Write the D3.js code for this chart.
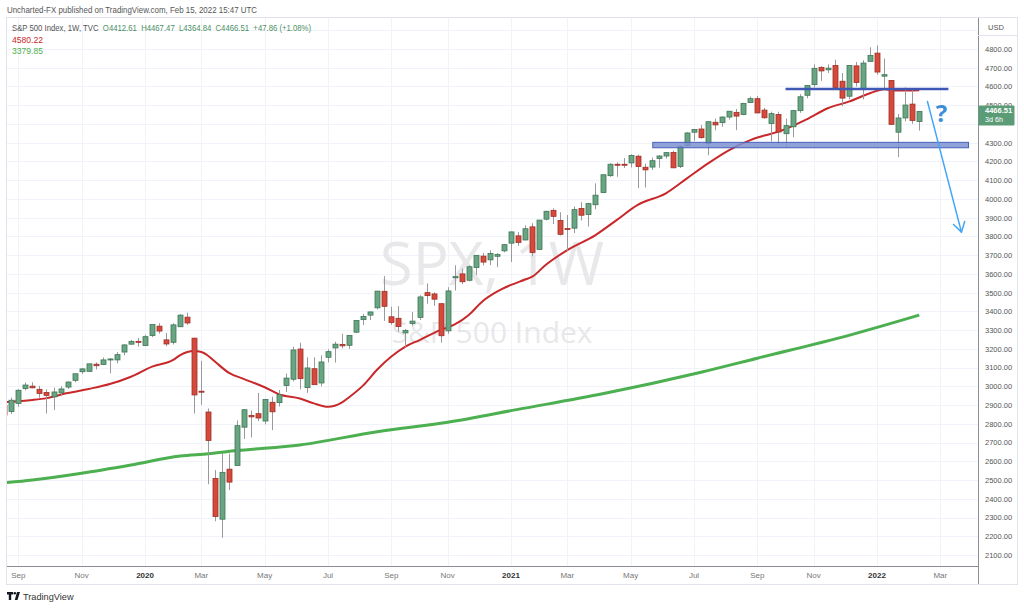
<!DOCTYPE html>
<html>
<head>
<meta charset="utf-8">
<script src="https://cdn.jsdelivr.net/npm/d3@7"></script>
<style>
  body { margin: 0; background: #fff; }
  svg { display: block; font-family: "Liberation Sans", Arial, sans-serif; }
</style>
</head>
<body>
<script>
// weekly bars, SPX
var dates = [
  "2019-08-19","2019-08-26","2019-09-02","2019-09-09","2019-09-16","2019-09-23","2019-09-30","2019-10-07","2019-10-14","2019-10-21",
  "2019-10-28","2019-11-04","2019-11-11","2019-11-18","2019-11-25","2019-12-02","2019-12-09","2019-12-16","2019-12-23","2019-12-30",
  "2020-01-06","2020-01-13","2020-01-20","2020-01-27","2020-02-03","2020-02-10","2020-02-17","2020-02-24","2020-03-02","2020-03-09",
  "2020-03-16","2020-03-23","2020-03-30","2020-04-06","2020-04-13","2020-04-20","2020-04-27","2020-05-04","2020-05-11","2020-05-18",
  "2020-05-25","2020-06-01","2020-06-08","2020-06-15","2020-06-22","2020-06-29","2020-07-06","2020-07-13","2020-07-20","2020-07-27",
  "2020-08-03","2020-08-10","2020-08-17","2020-08-24","2020-08-31","2020-09-07","2020-09-14","2020-09-21","2020-09-28","2020-10-05",
  "2020-10-12","2020-10-19","2020-10-26","2020-11-02","2020-11-09","2020-11-16","2020-11-23","2020-11-30","2020-12-07","2020-12-14",
  "2020-12-21","2020-12-28","2021-01-04","2021-01-11","2021-01-18","2021-01-25","2021-02-01","2021-02-08","2021-02-15","2021-02-22",
  "2021-03-01","2021-03-08","2021-03-15","2021-03-22","2021-03-29","2021-04-05","2021-04-12","2021-04-19","2021-04-26","2021-05-03",
  "2021-05-10","2021-05-17","2021-05-24","2021-05-31","2021-06-07","2021-06-14","2021-06-21","2021-06-28","2021-07-05","2021-07-12",
  "2021-07-19","2021-07-26","2021-08-02","2021-08-09","2021-08-16","2021-08-23","2021-08-30","2021-09-06","2021-09-13","2021-09-20",
  "2021-09-27","2021-10-04","2021-10-11","2021-10-18","2021-10-25","2021-11-01","2021-11-08","2021-11-15","2021-11-22","2021-11-29",
  "2021-12-06","2021-12-13","2021-12-20","2021-12-27","2022-01-03","2022-01-10","2022-01-17","2022-01-24","2022-01-31","2022-02-07",
  "2022-02-14"
];
var opens = [
  2898,2866,2909,2988,3001,2984,2967,2944,2965,2996, 3032,3078,3080,3118,3117,3144,3141,3183,3225,3240,
  3218,3271,3321,3248,3235,3318,3369,3257,2974,2863, 2508,2291,2558,2578,2782,2845,2854,2815,2915,2913,
  3004,3038,3199,2993,3094,3018,3155,3205,3224,3219, 3289,3356,3380,3419,3507,3371,3363,3285,3335,3368,
  3500,3493,3441,3296,3583,3600,3566,3634,3695,3675, 3694,3723,3764,3803,3781,3851,3731,3892,3939,3885,
  3842,3844,3949,3917,3969,4034,4124,4185,4185,4192, 4228,4169,4170,4216,4229,4248,4173,4285,4356,4373,
  4296,4409,4407,4437,4462,4450,4514,4535,4474,4402, 4450,4348,4385,4471,4553,4610,4702,4689,4712,4628,
  4548,4710,4587,4734,4778,4655,4632,4356,4432,4506, 4412.61
];
var highs = [
  2940,2940,2985,3021,3022,3003,2983,2993,3000,3027, 3067,3098,3120,3128,3154,3150,3183,3225,3248,3258,
  3275,3330,3337,3285,3337,3385,3393,3260,3136,2882, 2553,2641,2641,2818,2879,2871,2965,2932,2945,2981,
  3068,3211,3233,3155,3155,3165,3198,3238,3280,3272, 3352,3387,3399,3509,3588,3425,3428,3306,3397,3486,
  3549,3502,3441,3529,3646,3628,3645,3699,3712,3726, 3711,3760,3826,3823,3859,3870,3887,3937,3950,3929,
  3914,3960,3983,3978,4083,4129,4191,4195,4218,4238, 4236,4188,4220,4234,4249,4257,4286,4356,4372,4394,
  4415,4429,4440,4468,4480,4513,4546,4549,4486,4466, 4465,4429,4475,4559,4608,4718,4708,4718,4743,4672,
  4713,4731,4740,4809,4819,4749,4632,4453,4595,4590, 4467.47
];
var lows = [
  2834,2853,2891,2978,2990,2939,2855,2874,2952,2986, 3022,3066,3078,3090,3114,3070,3123,3166,3223,3212,
  3214,3263,3281,3214,3223,3316,3328,2855,2901,2478, 2280,2192,2447,2578,2719,2727,2815,2797,2766,2892,
  2970,3026,2984,2965,3008,3000,3128,3127,3202,3200, 3284,3327,3354,3410,3349,3329,3292,3209,3324,3354,
  3441,3430,3233,3280,3511,3545,3560,3595,3645,3647, 3636,3715,3663,3749,3779,3694,3726,3885,3866,3805,
  3723,3818,3885,3853,3944,4034,4118,4118,4165,4168, 4057,4061,4155,4167,4215,4164,4165,4278,4310,4321,
  4233,4367,4385,4423,4367,4447,4513,4456,4428,4306, 4288,4278,4329,4459,4537,4595,4630,4672,4585,4495,
  4532,4600,4531,4734,4663,4582,4395,4223,4414,4401, 4364.84
];
var closes = [
  2847,2926,2979,3007,2992,2962,2952,2970,2986,3023, 3067,3093,3120,3110,3141,3146,3169,3221,3240,3235,
  3265,3330,3295,3226,3328,3380,3338,2954,2972,2711, 2305,2541,2489,2790,2875,2837,2831,2930,2864,2955,
  3044,3194,3041,3098,3009,3130,3185,3225,3216,3271, 3351,3373,3397,3508,3427,3341,3319,3298,3348,3477,
  3484,3465,3270,3509,3585,3558,3638,3699,3663,3709, 3703,3756,3824,3768,3841,3714,3887,3934,3907,3811,
  3841,3943,3913,3975,4020,4129,4185,4180,4181,4232, 4173,4155,4204,4229,4247,4166,4281,4352,4370,4327,
  4412,4395,4437,4468,4442,4509,4535,4459,4433,4455, 4357,4391,4471,4545,4605,4697,4683,4698,4595,4538,
  4712,4621,4725,4766,4677,4663,4398,4432,4501,4419, 4466.51
];

// moving averages (20 and 200 week)
var maRedDates = ["2019-08-19","2019-09-16","2019-09-30","2019-10-21","2019-11-11","2019-12-02","2019-12-23","2020-01-13",
  "2020-02-03","2020-02-10","2020-02-17","2020-02-24","2020-03-02","2020-03-09","2020-03-16","2020-03-30","2020-04-13",
  "2020-05-04","2020-05-18","2020-06-08","2020-06-22","2020-07-06","2020-07-20","2020-07-27","2020-08-10","2020-08-24",
  "2020-09-07","2020-09-21","2020-10-05","2020-10-26","2020-11-09","2020-11-23","2020-12-07","2020-12-21","2021-01-04",
  "2021-01-18","2021-01-25","2021-02-08","2021-03-01","2021-03-29","2021-04-19","2021-05-10","2021-06-07","2021-06-28",
  "2021-07-19","2021-08-09","2021-08-30","2021-09-13","2021-09-27","2021-10-25","2021-11-15","2021-12-06","2021-12-27",
  "2022-01-10","2022-01-24","2022-02-14"];
var maRed = [2915,2927,2937,2964,2986,3012,3051,3105,
  3141,3167,3183,3188,3183,3162,3130,3070,3040,
  2995,2958,2935,2909,2891,2915,2942,3005,3090,
  3159,3212,3247,3301,3330,3381,3455,3505,3541,
  3570,3585,3650,3727,3807,3887,3968,4030,4110,
  4190,4261,4314,4338,4359,4425,4484,4519,4564,
  4585,4578,4580.22];

var maGreenDates = ["2019-08-19","2019-09-16","2019-11-04","2019-12-23","2020-02-10","2020-03-09","2020-04-06","2020-06-08",
  "2020-08-24","2020-11-02","2021-01-11","2021-04-05","2021-07-12","2021-09-06","2021-12-06","2022-02-14"];
var maGreen = [2485,2500,2536,2580,2628,2640,2657,2687,2758,2808,2877,2960,3075,3150,3272,3379.85];

// 4400 sits under the last-price label, so it is not shown
var priceTicks = [2100,2200,2300,2400,2500,2600,2700,2800,2900,3000,3100,3200,3300,3400,3500,3600,3700,3800,
  3900,4000,4100,4200,4300,4500,4600,4700,4800];
var timeTicks = ["2019-09-02","2019-11-04","2020-01-06","2020-03-02","2020-05-04","2020-07-06","2020-09-07","2020-11-02",
  "2021-01-04","2021-03-01","2021-05-03","2021-07-05","2021-09-06","2021-11-01","2022-01-03","2022-03-07"];
var timeLabels = ["Sep","Nov","2020","Mar","May","Jul","Sep","Nov","2021","Mar","May","Jul","Sep","Nov","2022","Mar"];

// drawings on the chart: [date, price]
var resistance = [["2021-10-04", 4587], ["2022-03-15", 4587]];
var supportZone = [["2021-05-25", 4302], ["2022-04-04", 4273]];
var arrowPts = [["2022-02-22", 4523], ["2022-03-28", 3823]];
var questionAt = ["2022-03-08", 4410];

var W = 1024, H = 608;
var pL = 7, pR = 978, pT = 18, pB = 566;
var parse = d3.utcParse("%Y-%m-%d");

var x = d3.scaleUtc()
    .domain([new Date(Date.UTC(2020, 0, 1)), new Date(Date.UTC(2022, 0, 1))])
    .range([140, 875]);
var y = d3.scaleLinear().domain([2100, 4800]).range([555, 49]);

var svg = d3.select("body").append("svg").attr("width", W).attr("height", H);

svg.append("rect").attr("width", W).attr("height", H).attr("fill", "#fff");

// header
svg.append("text").attr("x", 7).attr("y", 13)
    .attr("font-size", 8.6).attr("fill", "#555")
    .attr("textLength", 250).attr("lengthAdjust", "spacingAndGlyphs")
    .text("Uncharted-FX published on TradingView.com, Feb 15, 2022 15:47 UTC");

// panel frame
svg.append("rect").attr("x", 6.5).attr("y", 17.5).attr("width", 1011).attr("height", 567)
    .attr("fill", "none").attr("stroke", "#e0e3eb");

svg.append("clipPath").attr("id", "plot")
  .append("rect").attr("x", pL).attr("y", pT).attr("width", pR - pL).attr("height", pB - pT);

var grid = svg.append("g").attr("clip-path", "url(#plot)");
grid.selectAll(".hg").data(d3.range(2000, 5001, 100)).enter().append("line")
    .attr("x1", pL).attr("x2", pR)
    .attr("y1", function(d) { return Math.round(y(d)) + 0.5; })
    .attr("y2", function(d) { return Math.round(y(d)) + 0.5; })
    .attr("stroke", "#f0f3fa");
grid.selectAll(".vg").data(timeTicks).enter().append("line")
    .attr("x1", function(d) { return Math.round(x(parse(d))) + 0.5; })
    .attr("x2", function(d) { return Math.round(x(parse(d))) + 0.5; })
    .attr("y1", pT).attr("y2", pB)
    .attr("stroke", "#f0f3fa");

// watermark
svg.append("text").attr("x", 492).attr("y", 285).attr("text-anchor", "middle")
    .attr("font-size", 60).attr("fill", "#e4e4e6").attr("fill-opacity", 0.85)
    .attr("font-family", "'Open Sans', sans-serif")
    .text("SPX, 1W");
svg.append("text").attr("x", 492).attr("y", 343).attr("text-anchor", "middle")
    .attr("font-size", 30).attr("fill", "#e4e4e6").attr("fill-opacity", 0.85)
    .attr("font-family", "'Open Sans', sans-serif")
    .text("S&P 500 Index");

var plot = svg.append("g").attr("clip-path", "url(#plot)");

var line = d3.line()
    .x(function(d) { return x(parse(d[0])); })
    .y(function(d) { return y(d[1]); })
    .curve(d3.curveMonotoneX);

plot.append("path")
    .datum(maGreenDates.map(function(d, i) { return [d, maGreen[i]]; }))
    .attr("d", line).attr("fill", "none")
    .attr("stroke", "#4caf50").attr("stroke-width", 3);

plot.append("path")
    .datum(maRedDates.map(function(d, i) { return [d, maRed[i]]; }))
    .attr("d", line).attr("fill", "none")
    .attr("stroke", "#c8282a").attr("stroke-width", 2);

// candles
var bars = dates.map(function(d, i) {
  return { date: parse(d), o: opens[i], h: highs[i], l: lows[i], c: closes[i] };
});
var bw = 5;
var candle = plot.selectAll(".candle").data(bars).enter().append("g");
candle.append("line")
    .attr("x1", function(d) { return Math.round(x(d.date)) + 0.5; })
    .attr("x2", function(d) { return Math.round(x(d.date)) + 0.5; })
    .attr("y1", function(d) { return y(d.h); })
    .attr("y2", function(d) { return y(d.l); })
    .attr("stroke", "#9a9a9a");
candle.append("rect")
    .attr("x", function(d) { return Math.round(x(d.date)) - 2; })
    .attr("y", function(d) { return y(Math.max(d.o, d.c)); })
    .attr("width", bw)
    .attr("height", function(d) { return Math.max(1, Math.abs(y(d.o) - y(d.c))); })
    .attr("fill", function(d) { return d.c >= d.o ? "#6aa583" : "#d64a3c"; })
    .attr("stroke", function(d) { return d.c >= d.o ? "#3c7656" : "#9e2f27"; })
    .attr("stroke-width", 0.8);

// drawings
var draw = svg.append("g").attr("clip-path", "url(#plot)");
draw.append("rect")
    .attr("x", x(parse(supportZone[0][0])))
    .attr("y", y(supportZone[0][1]))
    .attr("width", x(parse(supportZone[1][0])) - x(parse(supportZone[0][0])))
    .attr("height", y(supportZone[1][1]) - y(supportZone[0][1]))
    .attr("fill", "#7e92d2").attr("fill-opacity", 0.85)
    .attr("stroke", "#4760b8").attr("stroke-width", 1);
draw.append("line")
    .attr("x1", x(parse(resistance[0][0]))).attr("y1", y(resistance[0][1]))
    .attr("x2", x(parse(resistance[1][0]))).attr("y2", y(resistance[1][1]))
    .attr("stroke", "#3f58b5").attr("stroke-width", 2.5);

var ax1 = x(parse(arrowPts[0][0])), ay1 = y(arrowPts[0][1]);
var ax2 = x(parse(arrowPts[1][0])), ay2 = y(arrowPts[1][1]);
draw.append("line").attr("x1", ax1).attr("y1", ay1).attr("x2", ax2).attr("y2", ay2)
    .attr("stroke", "#42a5f5").attr("stroke-width", 1.5);
var ang = Math.atan2(ay2 - ay1, ax2 - ax1);
[-0.55, 0.55].forEach(function(da) {
  draw.append("line").attr("x1", ax2).attr("y1", ay2)
      .attr("x2", ax2 - 11 * Math.cos(ang + da)).attr("y2", ay2 - 11 * Math.sin(ang + da))
      .attr("stroke", "#42a5f5").attr("stroke-width", 1.5).attr("stroke-linecap", "round");
});
draw.append("text").attr("x", x(parse(questionAt[0]))).attr("y", y(questionAt[1]))
    .attr("text-anchor", "middle").attr("font-size", 24).attr("font-weight", "bold")
    .attr("font-family", "'Open Sans', sans-serif")
    .attr("fill", "#3c8ed6").text("?");

// legend
var leg = svg.append("text").attr("x", 12).attr("y", 31).attr("font-size", 8.6)
    .attr("textLength", 299).attr("lengthAdjust", "spacingAndGlyphs");
leg.append("tspan").attr("fill", "#555").text("S&P 500 Index, 1W, TVC");
leg.append("tspan").attr("fill", "#4b8f63")
    .text("\u00a0\u00a0O4412.61\u00a0\u00a0H4467.47\u00a0\u00a0L4364.84\u00a0\u00a0C4466.51\u00a0\u00a0+47.86 (+1.08%)");
svg.append("text").attr("x", 12).attr("y", 42.5).attr("font-size", 8.6)
    .attr("fill", "#c8282a").text(d3.format(".2f")(maRed[maRed.length - 1]));
svg.append("text").attr("x", 12).attr("y", 54).attr("font-size", 8.6)
    .attr("fill", "#4caf50").text(d3.format(".2f")(maGreen[maGreen.length - 1]));

// price axis
svg.append("line").attr("x1", pR + 0.5).attr("x2", pR + 0.5).attr("y1", pT).attr("y2", 584)
    .attr("stroke", "#8a8d94");
svg.append("line").attr("x1", pR).attr("x2", 1018).attr("y1", 35.5).attr("y2", 35.5)
    .attr("stroke", "#e0e3eb");
svg.append("text").attr("x", 996).attr("y", 30).attr("text-anchor", "middle")
    .attr("font-size", 7.5).attr("fill", "#555").text("USD");

var yAxis = svg.append("g").attr("transform", "translate(" + pR + ",0)")
    .call(d3.axisRight(y).tickValues(priceTicks).tickSize(0).tickPadding(7)
      .tickFormat(d3.format(".2f")));
yAxis.select(".domain").remove();
yAxis.selectAll("text").attr("font-size", 7.5).attr("fill", "#555")
    .attr("font-family", "'Liberation Sans', Arial, sans-serif");

// last price label
var lastC = closes[closes.length - 1];
var ly = y(lastC);
svg.append("rect").attr("x", pR + 0.5).attr("y", ly - 6).attr("width", 36).attr("height", 20)
    .attr("fill", "#5b9c77").attr("rx", 1);
svg.append("text").attr("x", 985).attr("y", ly + 2).attr("font-size", 7.5).attr("font-weight", "bold")
    .attr("fill", "#fff").text(d3.format(".2f")(lastC));
svg.append("text").attr("x", 985).attr("y", ly + 11).attr("font-size", 7.2)
    .attr("fill", "#fff").text("3d 6h");

// time axis
svg.append("line").attr("x1", pL).attr("x2", pR).attr("y1", pB + 0.5).attr("y2", pB + 0.5)
    .attr("stroke", "#8a8d94");
svg.append("g").selectAll("text").data(timeTicks).enter().append("text")
    .attr("x", function(d) { return x(parse(d)); })
    .attr("y", 578)
    .attr("text-anchor", "middle")
    .attr("font-size", 8)
    .attr("fill", function(d, i) { return /^20/.test(timeLabels[i]) ? "#333" : "#777"; })
    .attr("font-weight", function(d, i) { return /^20/.test(timeLabels[i]) ? "bold" : "normal"; })
    .text(function(d, i) { return timeLabels[i]; });

// TradingView logo
var logo = svg.append("g").attr("transform", "translate(7,592)");
logo.append("path").attr("d", "M0,0H6V2.5H4.2V8H1.8V2.5H0Z").attr("fill", "#131722");
logo.append("circle").attr("cx", 7.8).attr("cy", 1.3).attr("r", 1.3).attr("fill", "#131722");
logo.append("path").attr("d", "M10,0H13L10.5,8H7.8Z").attr("fill", "#131722");
svg.append("text").attr("x", 23).attr("y", 600).attr("font-size", 9.2).attr("fill", "#333")
    .text("TradingView");
</script>
</body>
</html>
